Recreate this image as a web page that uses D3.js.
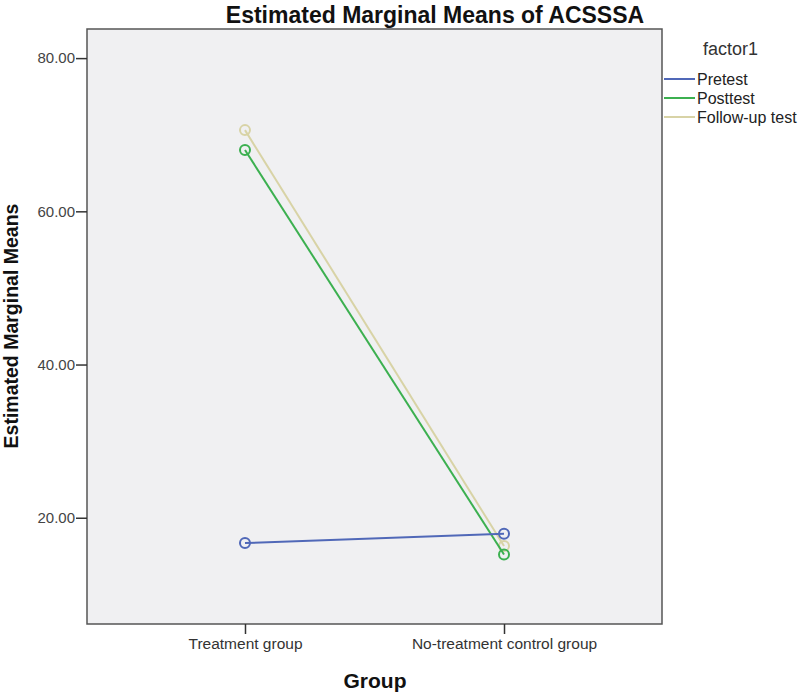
<!DOCTYPE html>
<html>
<head>
<meta charset="utf-8">
<script src="https://cdn.jsdelivr.net/npm/d3@7"></script>
<style>
  body { margin: 0; background: #fff; }
  text { font-family: "Liberation Sans", Arial, sans-serif; }
</style>
</head>
<body>
<script>
const w = 800;
const h = 693;

// data
const groups = ["Treatment group", "No-treatment control group"];
const seriesNames = ["Pretest", "Posttest", "Follow-up test"];
const pretest = [16.7, 17.9];
const posttest = [68.0, 15.2];
const followup = [70.6, 16.3];
const yTicks = [20, 40, 60, 80];
const colors = ["#5068b8", "#3cb050", "#d8d3a6"];

const seriesValues = [pretest, posttest, followup];

const plot = {left: 87, top: 29, right: 662, bottom: 624};

let svg = d3.select("body")
            .append("svg")
                .attr("width", w)
                .attr("height", h);

let x = d3.scalePoint()
    .domain(groups)
    .range([plot.left, plot.right])
    .padding(0.61);

let y = d3.scaleLinear()
    .domain([6.13, 83.8])
    .range([plot.bottom, plot.top]);

// plot background
svg.append("rect")
    .attr("x", plot.left)
    .attr("y", plot.top)
    .attr("width", plot.right - plot.left)
    .attr("height", plot.bottom - plot.top)
    .attr("fill", "#f0f0f2")
    .attr("stroke", "#555")
    .attr("stroke-width", 1.5);

// axes
let yAxis = svg.append("g")
    .attr("transform", "translate(" + plot.left + ",0)")
    .call(d3.axisLeft(y).tickValues(yTicks).tickFormat(d3.format(".2f")).tickSize(11).tickSizeOuter(0));
yAxis.select(".domain").remove();
yAxis.selectAll("line").attr("stroke", "#333").attr("stroke-width", 1.5);
yAxis.selectAll("text")
    .attr("fill", "#444")
    .attr("font-size", 15)
    .attr("x", -12)
    .style("font-family", "Liberation Sans, Arial, sans-serif");

let xAxis = svg.append("g")
    .attr("transform", "translate(0," + plot.bottom + ")")
    .call(d3.axisBottom(x).tickSize(10).tickSizeOuter(0));
xAxis.select(".domain").remove();
xAxis.selectAll("line").attr("stroke", "#333").attr("stroke-width", 1.5);
xAxis.selectAll("text")
    .attr("fill", "#333")
    .attr("font-size", 15.5)
    .attr("y", 14)
    .style("font-family", "Liberation Sans, Arial, sans-serif");

// lines and markers, drawn back to front so Pretest sits on top
let line = d3.line()
    .x((d, i) => x(groups[i]))
    .y(d => y(d));

[2, 1, 0].forEach(s => {
    svg.append("path")
        .datum(seriesValues[s])
        .attr("d", line)
        .attr("fill", "none")
        .attr("stroke", colors[s])
        .attr("stroke-width", 2);
    svg.selectAll(".pt" + s)
        .data(seriesValues[s])
        .enter()
        .append("circle")
        .attr("class", "pt" + s)
        .attr("cx", (d, i) => x(groups[i]))
        .attr("cy", d => y(d))
        .attr("r", 5)
        .attr("fill", "none")
        .attr("stroke", colors[s])
        .attr("stroke-width", 2);
});

// titles
svg.append("text")
    .attr("x", 435)
    .attr("y", 23)
    .attr("text-anchor", "middle")
    .attr("font-size", 23)
    .attr("font-weight", "bold")
    .attr("fill", "#111")
    .text("Estimated Marginal Means of ACSSSA");

svg.append("text")
    .attr("transform", "translate(18,326) rotate(-90)")
    .attr("text-anchor", "middle")
    .attr("font-size", 19.5)
    .attr("font-weight", "bold")
    .attr("fill", "#111")
    .text("Estimated Marginal Means");

svg.append("text")
    .attr("x", 375)
    .attr("y", 688)
    .attr("text-anchor", "middle")
    .attr("font-size", 21)
    .attr("font-weight", "bold")
    .attr("fill", "#111")
    .text("Group");

// legend
svg.append("text")
    .attr("x", 703)
    .attr("y", 55)
    .attr("font-size", 18)
    .attr("fill", "#333")
    .text("factor1");

let legend = svg.selectAll(".legend")
    .data(seriesNames)
    .enter()
    .append("g")
    .attr("class", "legend")
    .attr("transform", (d, i) => "translate(0," + (79 + i * 19) + ")");

legend.append("line")
    .attr("x1", 664)
    .attr("x2", 695)
    .attr("stroke", (d, i) => colors[i])
    .attr("stroke-width", 2);

legend.append("text")
    .attr("x", 697)
    .attr("y", 6)
    .attr("font-size", 16)
    .attr("fill", "#222")
    .text(d => d);
</script>
</body>
</html>
